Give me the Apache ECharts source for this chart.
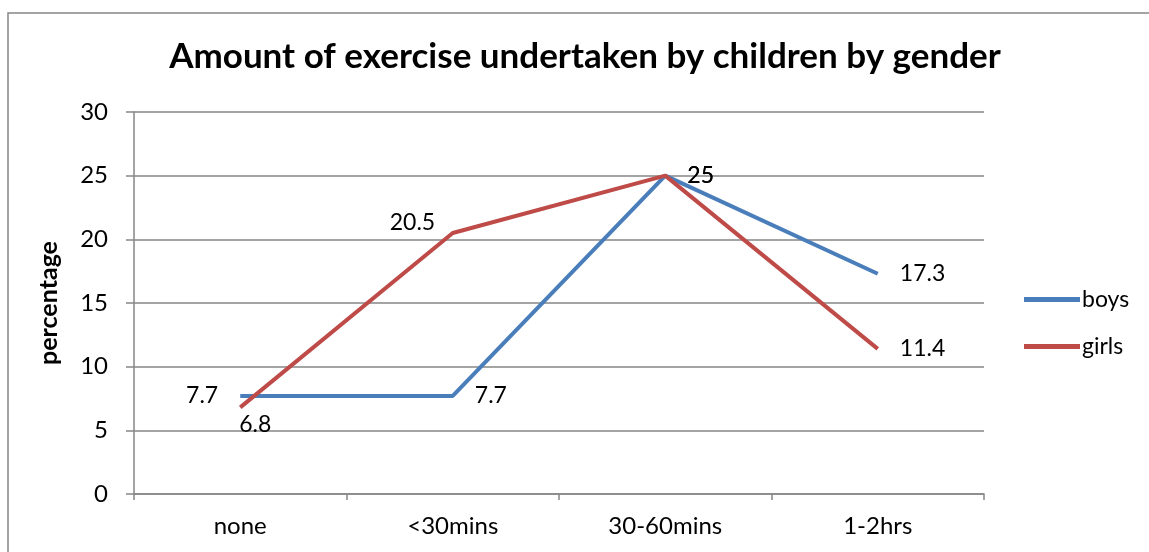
<!DOCTYPE html>
<html lang="en">
<head>
    <meta charset="UTF-8">
    <title>Amount of exercise</title>
    <script src="https://cdn.jsdelivr.net/npm/echarts@6.0.0/dist/echarts.min.js"></script>
    <style>
        html, body { margin: 0; padding: 0; background: #fff; }
        #main { width: 1149px; height: 552px; }
    </style>
</head>
<body>
<div id="main"></div>
<script type="text/javascript">
    // data
    var categories = ['none', '<30mins', '30-60mins', '1-2hrs'];
    var boys = [7.7, 7.7, 25, 17.3];
    var girls = [6.8, 20.5, 25, 11.4];
    var yTicks = [0, 5, 10, 15, 20, 25, 30];

    // where each data label sits, per point
    var boysLabelPos = ['left', 'right', 'right', 'right'];
    var girlsLabelPos = [[-1, 6], [-63, -22], 'right', 'right'];

    var font = 'Lato, "Open Sans", sans-serif';
    var axisGray = '#868686';

    function withLabels(values, positions) {
        var out = [];
        for (var i = 0; i < values.length; i++) {
            out.push({
                value: values[i],
                label: { position: positions[i] }
            });
        }
        return out;
    }

    var myChart = echarts.init(document.getElementById('main'));

    var option = {
        backgroundColor: '#fff',
        animation: false,
        title: {
            text: 'Amount of exercise undertaken by children by gender',
            left: 580,
            textAlign: 'center',
            top: 34,
            textStyle: { fontFamily: font, fontSize: 35, fontWeight: 'bold', color: '#000' }
        },
        graphic: [{
            type: 'rect',
            shape: { x: 8, y: 13, width: 1200, height: 600 },
            style: { fill: 'none', stroke: axisGray, lineWidth: 1.5 },
            silent: true
        }],
        legend: {
            orient: 'vertical',
            left: 1019,
            top: 283,
            itemWidth: 56,
            itemHeight: 5,
            itemGap: 24,
            icon: 'rect',
            textStyle: { fontFamily: font, fontSize: 23, color: '#000', padding: [0, 0, 0, -3] },
            data: ['boys', 'girls']
        },
        grid: { left: 134, right: 165, top: 112, bottom: 58 },
        xAxis: {
            type: 'category',
            data: categories,
            boundaryGap: true,
            axisLine: { lineStyle: { color: axisGray, width: 1.5 } },
            axisTick: { show: true, length: 6, lineStyle: { color: axisGray, width: 1.5 } },
            axisLabel: { fontFamily: font, fontSize: 24, color: '#000', margin: 20 }
        },
        yAxis: {
            type: 'value',
            min: yTicks[0],
            max: yTicks[yTicks.length - 1],
            interval: 5,
            name: 'percentage',
            nameLocation: 'middle',
            nameGap: 73,
            nameRotate: 90,
            nameTextStyle: { fontFamily: font, fontSize: 25, fontWeight: 'bold', color: '#000' },
            axisLine: { show: true, lineStyle: { color: axisGray, width: 1.5 } },
            axisTick: { show: true, length: 8, lineStyle: { color: axisGray, width: 1.5 } },
            axisLabel: { fontFamily: font, fontSize: 24, color: '#000', margin: 26 },
            splitLine: { lineStyle: { color: axisGray, width: 1.5 } }
        },
        series: [
            {
                name: 'boys',
                type: 'line',
                data: withLabels(boys, boysLabelPos),
                symbol: 'circle',
                symbolSize: 0.1,
                showSymbol: true,
                color: '#4a7ebb',
                lineStyle: { width: 4, color: '#4a7ebb' },
                label: { show: true, fontFamily: font, fontSize: 23, color: '#000', distance: 22 }
            },
            {
                name: 'girls',
                type: 'line',
                data: withLabels(girls, girlsLabelPos),
                symbol: 'circle',
                symbolSize: 0.1,
                showSymbol: true,
                color: '#be4b48',
                lineStyle: { width: 4, color: '#be4b48' },
                label: { show: true, fontFamily: font, fontSize: 23, color: '#000', distance: 22 }
            }
        ]
    };

    myChart.setOption(option);
</script>
</body>
</html>
